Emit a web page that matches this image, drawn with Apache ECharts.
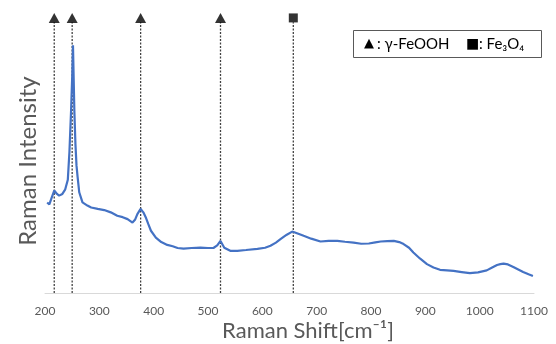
<!DOCTYPE html>
<html>
<head>
<meta charset="utf-8">
<script src="https://cdn.jsdelivr.net/npm/echarts@6/dist/echarts.min.js"></script>
<style>
  html, body { margin: 0; padding: 0; background: #fff; }
  #chart { width: 556px; height: 344px; }
</style>
</head>
<body>
<div id="chart"></div>
<script>
// Raman spectrum: shift (cm^-1) and relative intensity
const ramanShift = [
  204, 208, 212, 217, 222, 226, 232, 237, 242, 245, 248, 250, 251.5, 254, 256, 258, 260, 263,
  269, 278, 285, 297, 309, 321, 333, 343, 352, 361, 366, 370, 376, 381, 386, 390, 395,
  404, 414, 425, 435, 444, 455, 470, 486, 500, 510, 517, 523, 530, 541, 554, 570,
  591, 605, 615, 625, 634, 645, 655, 665, 676, 690, 707, 722, 738, 752, 768, 782,
  796, 808, 818, 830, 842, 852, 860, 870, 878, 890, 903, 915, 927, 940, 952, 967,
  982, 997, 1013, 1023, 1032, 1038, 1044, 1052, 1062, 1071, 1080, 1090, 1098
];
const ramanIntensity = [
  32.0, 31.3, 33.5, 36.2, 35.0, 34.4, 35.0, 36.5, 40.0, 50.0, 64.5, 76.0, 87.5, 64.5, 52.7, 45.0, 41.0, 35.6,
  32.0, 30.9, 30.2, 29.7, 29.3, 28.5, 27.3, 26.8, 26.1, 24.9, 26.0, 27.9, 29.7, 28.5, 26.5, 24.4, 22.0,
  19.6, 18.0, 17.0, 16.5, 15.9, 15.7, 15.9, 16.0, 15.9, 15.9, 16.8, 18.4, 16.0, 14.9, 14.9, 15.2,
  15.6, 16.0, 16.7, 17.8, 19.1, 20.6, 21.7, 21.0, 20.2, 19.2, 18.2, 18.4, 18.4, 18.1, 17.8, 17.4,
  17.5, 17.9, 18.2, 18.3, 18.4, 18.0, 17.3, 16.0, 14.3, 12.2, 10.2, 9.0, 8.2, 8.0, 7.8, 7.4,
  7.0, 7.3, 8.0, 9.0, 9.9, 10.2, 10.4, 10.1, 9.2, 8.3, 7.4, 6.6, 6.0
];

// Assigned band positions (cm^-1)
const feoohBands = [217, 250, 376, 523];
const fe3o4Bands = [657];

// Axis setup
const xMin = 200, xMax = 1100, xStep = 100;
const yMin = 0, yMax = 100;
const markerLevel = 97.2;   // where the band symbols sit
const guideTop = 95.7;      // top end of the dotted guide lines

const FONT = 'Lato, "Open Sans", sans-serif';
const spectrum = ramanShift.map((x, i) => [x, ramanIntensity[i]]);

const guideSeries = feoohBands.concat(fe3o4Bands).map(x => ({
  type: 'line',
  data: [[x, yMin], [x, guideTop]],
  showSymbol: false,
  silent: true,
  lineStyle: { color: '#404040', width: 1.3, type: [2, 1.5] },
  z: 1
}));

const chart = echarts.init(document.getElementById('chart'), null, { renderer: 'canvas' });
chart.setOption({
  animation: false,
  backgroundColor: '#fff',
  grid: { left: 45, right: 22, top: 10, bottom: 51, containLabel: false, outerBoundsMode: 'none' },
  xAxis: {
    type: 'value',
    min: xMin, max: xMax, interval: xStep,
    axisLine: { show: true, lineStyle: { color: '#d9d9d9', width: 1 } },
    axisTick: { show: false },
    splitLine: { show: false },
    axisLabel: {
      color: '#595959', fontSize: 12, fontFamily: FONT, margin: 12,
      formatter: v => String(v)
    }
  },
  yAxis: {
    type: 'value',
    min: yMin, max: yMax,
    axisLine: { show: false },
    axisTick: { show: false },
    axisLabel: { show: false },
    splitLine: { show: false }
  },
  series: guideSeries.concat([
    {
      type: 'line',
      data: spectrum,
      showSymbol: false,
      lineStyle: { color: '#4472C4', width: 2.2 },
      z: 3
    },
    {
      type: 'scatter',
      data: feoohBands.map(x => [x, markerLevel]),
      symbol: 'triangle',
      symbolSize: [11, 10],
      itemStyle: { color: '#000' },
      z: 4
    },
    {
      type: 'scatter',
      data: fe3o4Bands.map(x => [x, markerLevel]),
      symbol: 'rect',
      symbolSize: 9,
      itemStyle: { color: '#000' },
      z: 4
    }
  ]),
  graphic: [
    // axis titles
    {
      type: 'text', x: 308, y: 331,
      style: { text: 'Raman Shift[cm\u207B\u00B9]', fill: '#595959', font: '22px ' + FONT,
               textAlign: 'center', textVerticalAlign: 'middle' }
    },
    {
      type: 'text', x: 28, y: 161, rotation: Math.PI / 2,
      style: { text: 'Raman Intensity', fill: '#595959', font: '24px ' + FONT,
               textAlign: 'center', textVerticalAlign: 'middle' }
    },
    // key box
    {
      type: 'rect',
      shape: { x: 353.5, y: 30.5, width: 188, height: 27 },
      style: { fill: '#fff', stroke: '#595959', lineWidth: 1 },
      z: 10
    },
    {
      type: 'text', x: 364, y: 44,
      style: { text: '\u25B2', fill: '#000', font: '13px "DejaVu Sans", sans-serif', textVerticalAlign: 'middle' },
      z: 11
    },
    {
      type: 'text', x: 377, y: 44,
      style: { text: ': \u03B3-FeOOH', fill: '#000', font: '15px ' + FONT, textVerticalAlign: 'middle' },
      z: 11
    },
    {
      type: 'text', x: 466, y: 44,
      style: { text: '\u25A0', fill: '#000', font: '14px "DejaVu Sans", sans-serif', textVerticalAlign: 'middle' },
      z: 11
    },
    {
      type: 'text', x: 479, y: 44,
      style: { text: ': Fe\u2083O\u2084', fill: '#000', font: '15px ' + FONT, textVerticalAlign: 'middle' },
      z: 11
    }
  ]
});
</script>
</body>
</html>
